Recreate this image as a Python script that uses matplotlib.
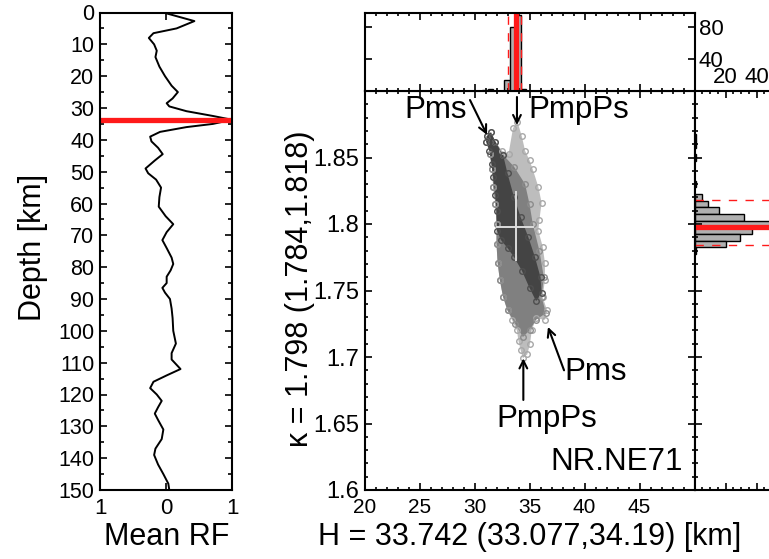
import numpy as np
import matplotlib
matplotlib.use('Agg')
import matplotlib.pyplot as py
from matplotlib.ticker import MultipleLocator

py.rcParams['font.family'] = ['Liberation Sans', 'DejaVu Sans']

#--mean receiver function vs depth
depth = [0,2.7,5,6.5,8,10,12,14,17,20,23,25,27,28.5,29.5,31,32.5,33.7,35,36,
         37.5,39,40.5,42.5,44.5,46.5,49,50.5,52.5,55,58,61,64,66.5,69,71.5,74,77,79,81,
         83,85,86.5,88,90,93,96,100,104,107,109,112,114,116,118,120,122,124,126,128,
         131,134,137,139,142,145,148,150]
rf = [-0.04,0.43,0.16,-0.19,-0.26,-0.18,-0.14,-0.16,-0.10,-0.015,0.085,0.18,0.10,0.01,0.05,0.31,0.71,1.0,0.71,0.31,
      -0.09,-0.24,-0.22,-0.12,-0.05,-0.17,-0.31,-0.27,-0.15,-0.075,-0.10,-0.11,-0.005,0.11,0.01,-0.055,0.01,0.085,0.11,0.07,
      0.01,0.01,-0.055,-0.015,0.06,0.085,0.10,0.11,0.15,0.085,0.085,0.22,0.01,-0.19,-0.24,-0.14,-0.065,-0.12,-0.17,-0.12,
      -0.04,-0.065,-0.16,-0.18,-0.12,-0.04,0.035,0.05]

#--best estimates
H_best, H_lo, H_hi = 33.742, 33.077, 34.19
k_best, k_lo, k_hi = 1.798, 1.784, 1.818

#--H histogram (bin centres, counts)
H_bins = [30.95, 31.45, 32.95, 33.45, 33.95, 34.45]
H_counts = [1, 2, 14, 80, 95, 2]

#--kappa histogram
k_bins = [1.865, 1.860, 1.850, 1.830, 1.820, 1.815, 1.810, 1.805, 1.800, 1.795, 1.790, 1.785, 1.780]
k_counts = [1, 1, 1, 1, 5, 9, 16, 32, 52, 37, 29, 20, 1]

#--cloud of (H,kappa) samples: outline, then darker inner regions
cloud_H = [31.1,31.5,31.9,32.5,33.1,33.5,33.9,34.3,34.6,35.0,35.3,35.8,36.1,35.9,35.8,36.2,36.4,36.4,36.2,36.6,
           36.4,35.6,35.2,35.05,34.8,34.4,34.2,34.0,33.85,33.4,33.0,32.6,32.3,32.1,32.0,32.0,31.9,31.7,31.6,31.4,31.05]
cloud_k = [1.866,1.869,1.862,1.855,1.853,1.872,1.877,1.866,1.855,1.848,1.841,1.828,1.816,1.803,1.795,1.783,1.771,1.758,1.745,1.735,
           1.728,1.729,1.720,1.710,1.702,1.699,1.705,1.712,1.720,1.728,1.735,1.745,1.758,1.771,1.785,1.800,1.815,1.828,1.841,1.853,1.862]
mid_H = [32.6,33.6,34.6,35.0,35.3,35.9,36.3,36.1,36.5,35.6,35.0,34.4,33.7,33.0,32.6,32.3,32.1,32.0,32.0,31.9,31.7,31.6,31.4]
mid_k = [1.852,1.843,1.830,1.815,1.800,1.780,1.760,1.745,1.733,1.728,1.720,1.715,1.725,1.735,1.745,1.758,1.771,1.785,1.800,1.815,1.828,1.841,1.853]
dark_H = [31.1,31.5,31.9,32.6,33.0,33.6,34.2,34.9,35.5,36.0,36.1,35.6,35.0,34.3,33.6,33.0,32.4,32.05,32.0,31.9,31.7,31.55,31.35,31.05]
dark_k = [1.866,1.869,1.862,1.852,1.838,1.820,1.805,1.790,1.775,1.760,1.748,1.742,1.752,1.765,1.775,1.782,1.788,1.795,1.810,1.822,1.835,1.845,1.855,1.862]

W, Hh = 769, 559
fig = py.figure(figsize=(W/100., Hh/100.), dpi=100)

def box(x0, y0, x1, y1):
    return [x0/W, 1-y1/Hh, (x1-x0)/W, (y1-y0)/Hh]

ax1 = fig.add_axes(box(100, 12.5, 232, 490))
ax2 = fig.add_axes(box(364.5, 91, 694.5, 490))
ax3 = fig.add_axes(box(364.5, 13, 694.5, 91))
ax4 = fig.add_axes(box(694.5, 91, 780, 490))

red = '#ff1a1a'

##############################################
#--left: mean RF
##############################################
ax1.plot(rf, depth, color='k', lw=1.4)
ax1.axhline(H_best, color=red, lw=3.8)
ax1.set_xlim(-1, 1)
ax1.set_ylim(150, 0)
ax1.set_xticks([-1, 0, 1])
ax1.set_xticklabels(['1', '0', '1'])
ax1.yaxis.set_major_locator(MultipleLocator(10))
ax1.yaxis.set_minor_locator(MultipleLocator(5))
ax1.tick_params(axis='both', which='both', direction='in', top=True, right=True, width=1.2)
ax1.tick_params(axis='y', labelsize=15.5, pad=4)
ax1.tick_params(axis='x', labelsize=16, pad=6)
ax1.tick_params(which='major', length=5)
ax1.tick_params(which='minor', length=3)
for s in ax1.spines.values(): s.set_linewidth(1.5)
fig.text(33/W, 1-247/Hh, 'Depth [km]', rotation=90, ha='center', va='center', fontsize=22)
fig.text(167/W, 1-537/Hh, 'Mean RF', ha='center', va='center', fontsize=22)

##############################################
#--main: H-kappa cloud
##############################################
ax2.fill(cloud_H, cloud_k, color='#bdbdbd', lw=0)
ax2.plot(cloud_H, cloud_k, 'o', ms=4, mfc='none', mec='#a8a8a8', mew=1.0)
ax2.fill(mid_H, mid_k, color='#808080', lw=0)
ax2.plot(mid_H, mid_k, 'o', ms=4, mfc='none', mec='#8c8c8c', mew=1.0)
ax2.fill(dark_H, dark_k, color='#444444', lw=0)
ax2.plot(dark_H, dark_k, 'o', ms=4, mfc='none', mec='#4e4e4e', mew=1.0)
ax2.plot([H_best, H_best], [1.773, 1.824], color='#dcdcdc', lw=1.4)
ax2.plot([32.05, 35.3], [k_best, k_best], color='#dcdcdc', lw=1.4)

arr = dict(arrowstyle='->', color='k', lw=1.5, mutation_scale=14, shrinkA=0, shrinkB=0)
ax2.annotate('', xy=(31.14, 1.867), xytext=(29.59, 1.8932), arrowprops=arr)
ax2.annotate('', xy=(33.86, 1.8744), xytext=(33.86, 1.8955), arrowprops=arr)
ax2.annotate('', xy=(36.68, 1.7226), xytext=(38.14, 1.690), arrowprops=arr)
ax2.annotate('', xy=(34.44, 1.699), xytext=(34.44, 1.6677), arrowprops=arr)
ax2.text(23.6, 1.8795, 'Pms', fontsize=22.5, va='baseline', ha='left')
ax2.text(34.86, 1.8795, 'PmpPs', fontsize=22.5, va='baseline', ha='left')
ax2.text(38.2, 1.6827, 'Pms', fontsize=22.5, va='baseline', ha='left')
ax2.text(32.0, 1.6476, 'PmpPs', fontsize=22.5, va='baseline', ha='left')
ax2.text(36.9, 1.615, 'NR.NE71', fontsize=22.5, va='baseline', ha='left')

ax2.set_xlim(20, 50)
ax2.set_ylim(1.6, 1.9)
ax2.set_xticks([20, 25, 30, 35, 40, 45])
ax2.xaxis.set_minor_locator(MultipleLocator(1))
ax2.set_yticks([1.6, 1.65, 1.7, 1.75, 1.8, 1.85])
ax2.set_yticklabels(['1.6', '1.65', '1.7', '1.75', '1.8', '1.85'])
ax2.yaxis.set_minor_locator(MultipleLocator(0.01))
ax2.tick_params(axis='both', which='both', direction='in', top=True, right=True, width=1.2)
ax2.tick_params(axis='x', labelsize=15, pad=6)
ax2.tick_params(axis='y', labelsize=17, pad=4)
ax2.tick_params(which='major', length=5)
ax2.tick_params(which='minor', length=2.5)
for s in ax2.spines.values(): s.set_linewidth(1.5)
fig.text(300/W, 1-289/Hh, '\u03ba = 1.798 (1.784,1.818)', rotation=90, ha='center', va='center', fontsize=22)
fig.text(530/W, 1-537/Hh, 'H = 33.742 (33.077,34.19) [km]', ha='center', va='center', fontsize=22)

##############################################
#--top: H histogram
##############################################
ax3.bar(H_bins, H_counts, width=0.5, color='#b0b0b0', edgecolor='k', lw=1.0)
ax3.axvline(H_best, color=red, lw=3.8)
ax3.axvline(H_lo, color=red, lw=1.0, ls=(0, (6, 6)))
ax3.axvline(H_hi, color=red, lw=1.0, ls=(0, (6, 6)))
ax3.set_xlim(20, 50)
ax3.set_ylim(0, 98)
ax3.xaxis.set_minor_locator(MultipleLocator(1))
ax3.set_xticks([20, 25, 30, 35, 40, 45])
ax3.set_yticks([40, 80])
ax3.tick_params(axis='both', which='both', direction='in', top=True, right=True, width=1.2,
                labelbottom=False, labelleft=False, labelright=True, labelsize=16)
ax3.tick_params(which='major', length=5)
ax3.tick_params(which='minor', length=2.5)
ax3.tick_params(axis='y', pad=3)
for s in ax3.spines.values(): s.set_linewidth(1.5)

##############################################
#--right: kappa histogram
##############################################
ax4.barh(k_bins, k_counts, height=0.005, color='#b0b0b0', edgecolor='k', lw=1.0)
ax4.axhline(k_best, color=red, lw=3.8)
ax4.axhline(k_lo, color=red, lw=1.0, ls=(0, (6, 6)))
ax4.axhline(k_hi, color=red, lw=1.0, ls=(0, (6, 6)))
ax4.set_ylim(1.6, 1.9)
ax4.set_xlim(0, 55)
ax4.set_yticks([1.6, 1.65, 1.7, 1.75, 1.8, 1.85])
ax4.yaxis.set_minor_locator(MultipleLocator(0.01))
ax4.set_xticks([20, 40])
ax4.xaxis.set_minor_locator(MultipleLocator(5))
ax4.tick_params(axis='both', which='both', direction='in', top=True, right=True, width=1.2,
                labelbottom=False, labelleft=False, labeltop=True, labelsize=16)
ax4.tick_params(which='major', length=5)
ax4.tick_params(which='minor', length=2.5)
ax4.tick_params(axis='x', pad=2)
for s in ax4.spines.values(): s.set_linewidth(1.5)

py.savefig('out.png', dpi=100)
